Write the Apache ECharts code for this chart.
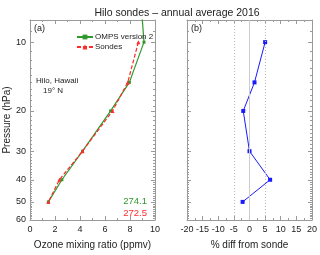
<!DOCTYPE html>
<html><head><meta charset="utf-8">
<script src="https://cdn.jsdelivr.net/npm/echarts@6/dist/echarts.min.js"></script>
<style>html,body{margin:0;padding:0;background:#fff}#c{width:320px;height:255px}</style>
</head><body><div id="c"></div>
<script>
// Data
var pressures = [10, 15, 20, 30, 40, 50];
var ompsPressures = [7.5, 10, 15, 20, 30, 40, 50];
var ompsValues = [8.95, 9.12, 7.95, 6.45, 4.2, 2.55, 1.47];
var sondeValues = [8.67, 7.82, 6.6, 4.2, 2.35, 1.47];
var diffValues = [5.0, 1.6, -2.0, 0.0, 6.6, -2.2];
var pressureLabels = [10, 20, 30, 40, 50, 60];
var pressureMinor = [8, 9, 11, 12, 13, 14, 15, 16, 17, 18, 19, 21, 22, 23, 24, 25, 26, 27, 28, 29, 31, 32, 33, 34, 35, 36, 37, 38, 39, 41, 42, 43, 44, 45, 46, 47, 48, 49, 51, 52, 53, 54, 55, 56, 57, 58, 59];
var columnOmps = '274.1';
var columnSonde = '272.5';

var L = Math.log10;
var green = '#2e9a2e', red = '#ff2a2a', blue = '#1a1aff', frame = '#9a9a9a', txt = '#222';
var FONT = 'Liberation Sans, Arial, sans-serif';

function pair(xs, ps) { return xs.map(function (x, i) { return [x, L(ps[i])]; }); }

var grids = [
  { left: 30, top: 20, width: 125, height: 201 },
  { left: 187, top: 20, width: 125, height: 201 }
];

function xAx(gi, pos, min, max, interval, labels, name) {
  return {
    type: 'value', gridIndex: gi, position: pos, min: min, max: max, interval: interval,
    axisLine: { show: true, onZero: false, lineStyle: { color: frame, width: 1 } },
    axisTick: { show: true, inside: true, length: 4, lineStyle: { color: frame } },
    minorTick: { show: true, splitNumber: 2, length: 2, lineStyle: { color: frame } },
    axisLabel: { show: labels, color: txt, fontSize: 9, fontFamily: FONT, margin: 5 },
    splitLine: { show: false },
    name: name || '', nameLocation: 'middle', nameGap: 20,
    nameTextStyle: { color: txt, fontSize: 10, fontFamily: FONT }
  };
}
var ymin = L(8), ymax = L(60);
function yAx(gi, pos, major, labels, name) {
  return {
    type: 'value', gridIndex: gi, position: pos, min: ymin, max: ymax, inverse: true,
    axisLine: { show: major, onZero: false, lineStyle: { color: frame, width: 1 } },
    axisTick: { show: true, inside: true, length: major ? 4 : 2, lineStyle: { color: frame },
      customValues: (major ? pressureLabels : pressureMinor).map(L) },
    axisLabel: { show: labels, color: txt, fontSize: 9, fontFamily: FONT, margin: 4,
      customValues: pressureLabels.map(L),
      formatter: function (v) { return String(Math.round(Math.pow(10, v))); } },
    splitLine: { show: false },
    name: name || '', nameLocation: 'middle', nameGap: 17,
    nameTextStyle: { color: txt, fontSize: 10, fontFamily: FONT }
  };
}

var option = {
  animation: false,
  backgroundColor: '#fff',
  title: { text: 'Hilo sondes \u2013 annual average 2016', left: 172, top: 3, textAlign: 'center',
    textStyle: { color: txt, fontSize: 10.5, fontWeight: 'normal', fontFamily: FONT } },
  grid: grids,
  xAxis: [
    xAx(0, 'bottom', 0, 10, 2, true, 'Ozone mixing ratio (ppmv)'),
    xAx(0, 'top', 0, 10, 2, false),
    xAx(1, 'bottom', -20, 20, 5, true, '% diff from sonde'),
    xAx(1, 'top', -20, 20, 5, false)
  ],
  yAxis: [
    yAx(0, 'left', true, true, 'Pressure (hPa)'),
    yAx(0, 'left', false, false),
    yAx(0, 'right', true, false),
    yAx(0, 'right', false, false),
    yAx(1, 'left', true, false),
    yAx(1, 'left', false, false),
    yAx(1, 'right', true, false),
    yAx(1, 'right', false, false)
  ],
  legend: {
    orient: 'vertical', left: 71, top: 28, itemWidth: 16, itemHeight: 6, itemGap: 2,
    textStyle: { color: txt, fontSize: 8, fontFamily: FONT, padding: [0, 0, 0, -3] },
    data: ['OMPS version 2', 'Sondes']
  },
  series: [
    { name: 'OMPS version 2', type: 'line', xAxisIndex: 0, yAxisIndex: 0,
      data: pair(ompsValues, ompsPressures), clip: true,
      symbol: 'rect', symbolSize: 3, showAllSymbol: true,
      lineStyle: { color: green, width: 1.2 }, itemStyle: { color: green }, z: 3 },
    { name: 'Sondes', type: 'line', xAxisIndex: 0, yAxisIndex: 0,
      data: pair(sondeValues, pressures), clip: true,
      symbol: 'triangle', symbolSize: 4,
      lineStyle: { color: red, width: 1.2, type: [4, 2] }, itemStyle: { color: red }, z: 4 },
    { name: 'diff', type: 'line', xAxisIndex: 2, yAxisIndex: 4,
      data: pair(diffValues, pressures),
      symbol: 'rect', symbolSize: 4,
      lineStyle: { color: blue, width: 1 }, itemStyle: { color: blue }, z: 4,
      markLine: { silent: true, symbol: 'none', label: { show: false },
        data: [
          { xAxis: -5, lineStyle: { color: '#bbb', type: [1, 2], width: 1 } },
          { xAxis: 0, lineStyle: { color: '#ccc', type: 'solid', width: 1 } },
          { xAxis: 5, lineStyle: { color: '#bbb', type: [1, 2], width: 1 } }
        ] } }
  ],
  graphic: [
    { type: 'text', left: 34, top: 24, style: { text: '(a)', fontSize: 9, fill: txt, fontFamily: FONT } },
    { type: 'text', left: 191, top: 24, style: { text: '(b)', fontSize: 9, fill: txt, fontFamily: FONT } },
    { type: 'text', left: 36, top: 77, style: { text: 'Hilo, Hawaii', fontSize: 8, fill: txt, fontFamily: FONT } },
    { type: 'text', left: 43, top: 87, style: { text: '19\u00b0 N', fontSize: 8, fill: txt, fontFamily: FONT } },
    { type: 'text', right: 173, top: 196, style: { text: columnOmps, fontSize: 9.5, fill: green, fontFamily: FONT } },
    { type: 'text', right: 173, top: 208, style: { text: columnSonde, fontSize: 9.5, fill: red, fontFamily: FONT } }
  ]
};
var chart = echarts.init(document.getElementById('c'), null, { renderer: 'canvas' });
chart.setOption(option);
</script>
</body></html>
